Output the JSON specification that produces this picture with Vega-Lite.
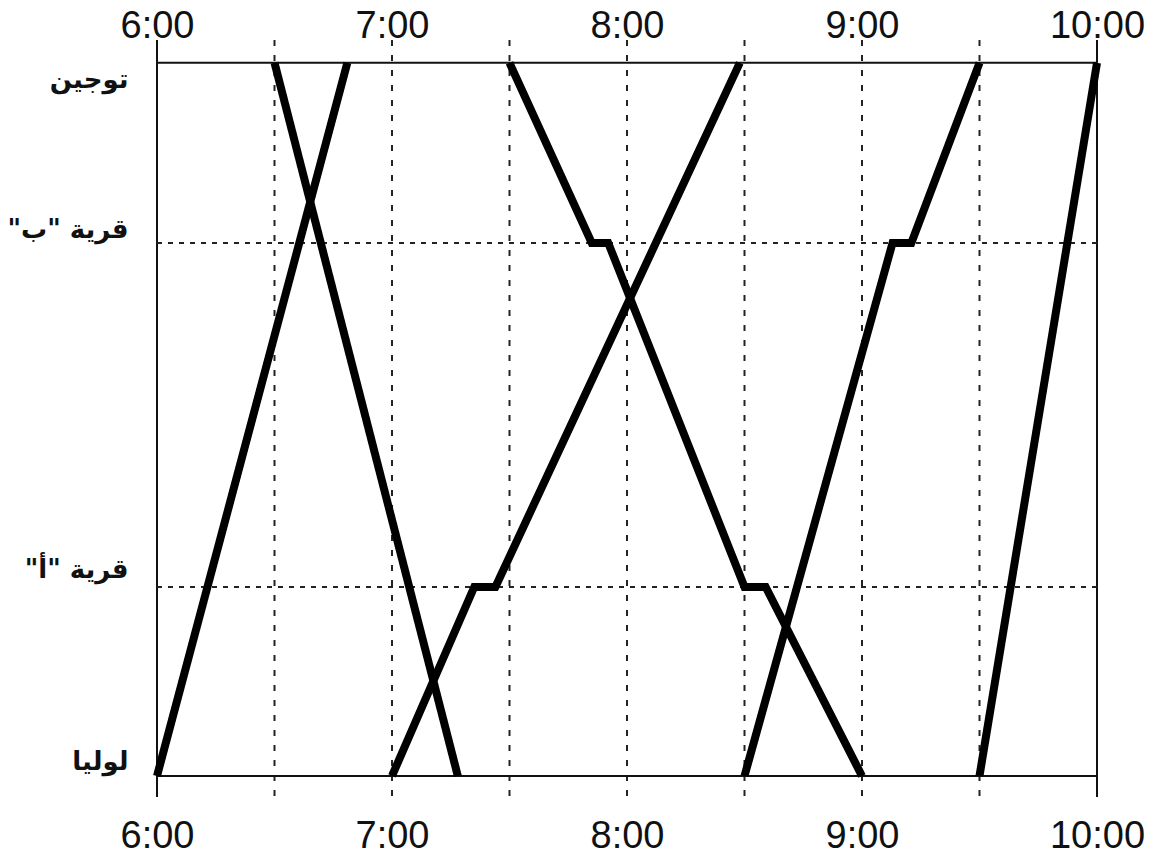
{
  "$schema": "https://vega.github.io/schema/vega-lite/v6.json",
  "width": 940,
  "height": 757,
  "autosize": {"type": "none"},
  "padding": {"left": 157, "top": 40, "right": 55, "bottom": 60},
  "background": "white",
  "config": {"view": {"stroke": null}},
  "datasets": {
    "trains": [
      {"train": 1, "seq": 1, "time": 6.0, "dist": 0},
      {"train": 1, "seq": 2, "time": 6.81, "dist": 100},
      {"train": 2, "seq": 1, "time": 6.5, "dist": 100},
      {"train": 2, "seq": 2, "time": 7.28, "dist": 0},
      {"train": 3, "seq": 1, "time": 7.0, "dist": 0},
      {"train": 3, "seq": 2, "time": 7.35, "dist": 26.5},
      {"train": 3, "seq": 3, "time": 7.44, "dist": 26.5},
      {"train": 3, "seq": 4, "time": 8.48, "dist": 100},
      {"train": 4, "seq": 1, "time": 7.5, "dist": 100},
      {"train": 4, "seq": 2, "time": 7.85, "dist": 74.75},
      {"train": 4, "seq": 3, "time": 7.92, "dist": 74.75},
      {"train": 4, "seq": 4, "time": 8.5, "dist": 26.5},
      {"train": 4, "seq": 5, "time": 8.59, "dist": 26.5},
      {"train": 4, "seq": 6, "time": 9.0, "dist": 0},
      {"train": 5, "seq": 1, "time": 8.5, "dist": 0},
      {"train": 5, "seq": 2, "time": 9.13, "dist": 74.75},
      {"train": 5, "seq": 3, "time": 9.21, "dist": 74.75},
      {"train": 5, "seq": 4, "time": 9.5, "dist": 100},
      {"train": 6, "seq": 1, "time": 9.5, "dist": 0},
      {"train": 6, "seq": 2, "time": 10.0, "dist": 100}
    ],
    "vgrid": [
      {"time": 6.5}, {"time": 7.0}, {"time": 7.5}, {"time": 8.0},
      {"time": 8.5}, {"time": 9.0}, {"time": 9.5}
    ],
    "vborder": [{"time": 6.0}, {"time": 10.0}],
    "hgrid": [{"dist": 26.5}, {"dist": 74.75}],
    "hborder": [{"dist": 0}, {"dist": 100}]
  },
  "layer": [
    {
      "data": {"name": "vgrid"},
      "mark": {"type": "rule", "stroke": "#222", "strokeWidth": 2, "strokeDash": [6, 9]},
      "encoding": {
        "x": {"field": "time", "type": "quantitative", "axis": null, "scale": {"domain": [6, 10], "nice": false, "zero": false}}
      }
    },
    {
      "data": {"name": "vborder"},
      "mark": {"type": "rule", "stroke": "#111", "strokeWidth": 2},
      "encoding": {
        "x": {"field": "time", "type": "quantitative", "axis": null}
      }
    },
    {
      "data": {"name": "hgrid"},
      "mark": {"type": "rule", "stroke": "#222", "strokeWidth": 2, "strokeDash": [5, 6]},
      "encoding": {
        "y": {"field": "dist", "type": "quantitative", "axis": null, "scale": {"domain": [-2.95, 103.2], "nice": false, "zero": false}}
      }
    },
    {
      "data": {"name": "hborder"},
      "mark": {"type": "rule", "stroke": "#111", "strokeWidth": 2},
      "encoding": {
        "y": {"field": "dist", "type": "quantitative", "axis": null}
      }
    },
    {
      "data": {"name": "trains"},
      "mark": {"type": "line", "stroke": "black", "strokeWidth": 8, "strokeCap": "butt", "strokeJoin": "miter"},
      "encoding": {
        "x": {
          "field": "time", "type": "quantitative",
          "axis": {
            "orient": "top", "values": [6, 7, 8, 9, 10],
            "labelExpr": "datum.value + ':00'",
            "domain": false, "ticks": false, "tickSize": 0, "grid": false, "title": null,
            "labelFont": "Liberation Sans", "labelFontSize": 38, "labelColor": "#111",
            "labelBaseline": "alphabetic", "labelPadding": 3, "labelFlush": false, "labelOverlap": false
          }
        },
        "y": {
          "field": "dist", "type": "quantitative",
          "axis": {
            "orient": "left", "values": [0, 26.5, 74.75, 100],
            "labelExpr": "datum.value == 100 ? '\u200fتوجين\u200f' : datum.value == 0 ? '\u200fلوليا\u200f' : datum.value > 50 ? '\u200fقرية \"ب\"\u200f' : '\u200fقرية \"أ\"\u200f'",
            "domain": false, "ticks": false, "tickSize": 0, "grid": false, "title": null,
            "labelFont": "DejaVu Sans", "labelFontSize": 26, "labelFontWeight": "bold", "labelColor": "#111",
            "labelBaseline": "middle", "labelPadding": 29, "labelFlush": false, "labelOverlap": false,
            "labelOffset": {"expr": "datum.value == 100 ? 17 : datum.value == 0 ? -14 : datum.value > 50 ? -13 : -17"}
          }
        },
        "detail": {"field": "train", "type": "nominal"},
        "order": {"field": "seq", "type": "quantitative"}
      }
    },
    {
      "data": {"name": "trains"},
      "mark": {"type": "point", "opacity": 0},
      "encoding": {
        "x": {
          "field": "time", "type": "quantitative",
          "axis": {
            "orient": "bottom", "values": [6, 7, 8, 9, 10],
            "labelExpr": "datum.value + ':00'",
            "domain": false, "ticks": false, "tickSize": 0, "grid": false, "title": null,
            "labelFont": "Liberation Sans", "labelFontSize": 38, "labelColor": "#111",
            "labelBaseline": "alphabetic", "labelPadding": 50, "labelFlush": false, "labelOverlap": false
          }
        },
        "y": {"field": "dist", "type": "quantitative", "axis": null}
      }
    }
  ],
  "resolve": {"axis": {"x": "independent", "y": "independent"}}
}
